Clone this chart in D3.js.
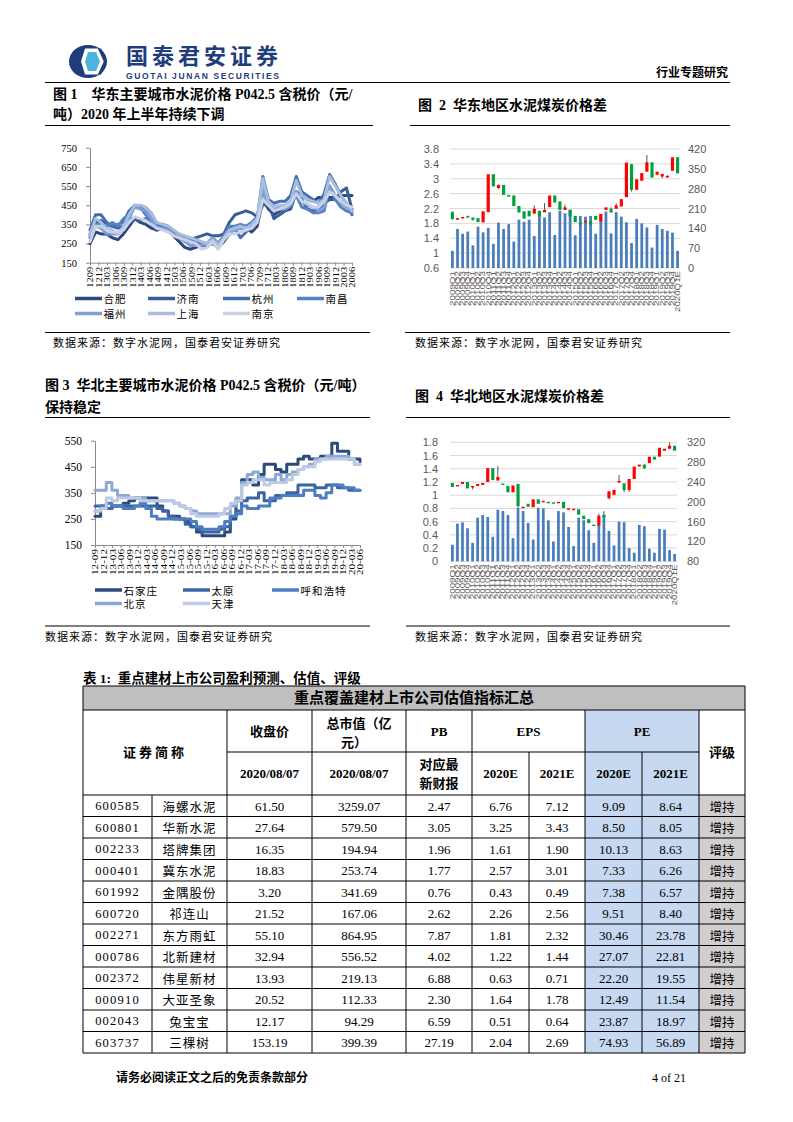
<!DOCTYPE html>
<html><head><meta charset="utf-8">
<script src="https://cdn.jsdelivr.net/npm/d3@7/dist/d3.min.js"></script>
<style>html,body{margin:0;padding:0;background:#fff;} svg{display:block;} text{white-space:pre;}</style>
</head><body>
<svg id="page" width="793" height="1122" xmlns="http://www.w3.org/2000/svg"></svg>
<script>
// ================= DATA =================
// Figure 1: East China cement price (P042.5, yuan/ton)
const c1Labels = ["1209","1212","1303","1306","1309","1312","1403","1406","1409","1412","1503","1506","1509","1512","1603","1606","1609","1612","1703","1706","1709","1712","1803","1806","1809","1812","1903","1906","1909","1912","2003","2006"];
const c1Names = ["合肥","济南","杭州","南昌","福州","上海","南京"];
const c1Hefei    = [250,310,300,300,280,270,300,340,380,360,350,330,320,330,320,290,260,230,220,230,240,240,250,230,260,300,330,330,330,310,340,480,430,400,420,440,470,520,500,480,470,490,490,490,490,500,500,500];
const c1Jinan    = [300,360,370,350,340,330,340,380,380,370,380,350,320,340,330,300,280,270,270,280,290,300,290,290,300,360,400,410,420,410,390,450,460,380,400,420,430,520,480,430,420,420,460,480,480,520,540,430];
const c1Hangzhou = [320,400,400,360,340,350,360,420,450,440,420,380,340,350,340,320,290,270,260,260,250,240,270,250,290,330,330,280,310,340,380,600,480,460,470,470,500,600,520,500,480,460,510,610,560,500,460,400];
const c1Nanchang = [280,350,350,340,360,340,380,400,440,440,400,370,340,330,320,300,280,280,260,250,250,250,280,250,290,340,340,350,340,360,390,520,460,440,430,440,460,500,440,430,410,410,420,550,480,440,420,410];
const c1Fuzhou   = [290,340,330,300,300,300,330,380,440,430,420,380,330,330,320,300,280,260,240,240,240,250,280,250,280,310,320,330,320,330,370,540,450,430,440,430,450,520,470,450,440,420,440,550,500,460,440,420];
const c1Shanghai = [300,380,360,330,320,300,340,400,450,450,440,410,360,350,340,320,300,290,280,270,260,250,270,240,280,320,330,340,330,350,380,590,470,440,450,450,470,580,500,480,470,460,480,600,550,500,460,420];
const c1Nanjing  = [260,340,340,320,310,310,320,360,390,380,370,350,330,320,310,290,280,270,260,250,220,230,260,220,270,300,300,310,320,330,360,480,450,420,430,440,460,510,470,460,440,440,470,520,500,470,450,440];
const c1YTicks = [150,250,350,450,550,650,750];

// Figure 3: North China cement price
const c3Labels = ["12-09","12-12","13-03","13-06","13-09","13-12","14-03","14-06","14-09","14-12","15-03","15-06","15-09","15-12","16-03","16-06","16-09","16-12","17-03","17-06","17-09","17-12","18-03","18-06","18-09","18-12","19-03","19-06","19-09","19-12","20-03","20-06"];
const c3Names = ["石家庄","太原","呼和浩特","北京","天津"];
const c3Shijiazhuang = [260,300,290,300,300,310,320,330,330,330,330,300,280,260,260,250,240,220,200,185,185,185,185,200,250,320,400,400,380,420,460,460,440,430,460,460,480,490,480,480,490,490,540,510,510,480,480,470];
const c3Taiyuan      = [300,290,290,300,300,300,300,300,300,300,300,290,280,260,250,250,230,220,210,200,200,200,210,220,260,280,320,330,330,350,320,320,340,340,350,350,380,380,380,370,370,380,380,370,370,360,360,360];
const c3Hohhot       = [280,300,310,300,300,290,290,300,310,290,260,250,250,250,250,250,250,240,220,210,210,210,220,240,260,270,300,290,290,300,300,330,330,340,340,340,340,360,360,340,330,350,380,380,370,370,360,360];
const c3Beijing      = [360,360,390,360,340,340,330,330,330,320,320,320,320,320,310,300,290,280,270,270,270,270,270,270,300,330,390,420,430,410,400,400,420,400,420,430,440,450,460,480,480,490,490,490,490,480,460,460];
const c3Tianjin      = [280,290,330,320,330,330,330,330,320,320,320,320,320,320,310,300,290,270,260,260,260,260,270,290,310,320,380,390,400,400,380,390,390,390,400,420,440,450,450,470,480,480,480,480,480,480,460,460];
const c3YTicks = [150,250,350,450,550];

// Figures 2 & 4: quarterly categories
const qCats = ["2009Q1","2009Q2","2009Q3","2009Q4","2010Q1","2010Q2","2010Q3","2010Q4","2011Q1","2011Q2","2011Q3","2011Q4","2012Q1","2012Q2","2012Q3","2012Q4","2013Q1","2013Q2","2013Q3","2013Q4","2014Q1","2014Q2","2014Q3","2014Q4","2015Q1","2015Q2","2015Q3","2015Q4","2016Q1","2016Q2","2016Q3","2016Q4","2017Q1","2017Q2","2017Q3","2017Q4","2018Q1","2018Q2","2018Q3","2018Q4","2019Q1","2019Q2","2019Q3","2019Q4","2020Q1E"];

// Figure 2: East China (bars on left axis, candles on right axis)
const c2Bars  = [1.06,1.65,1.52,1.58,1.21,1.71,1.56,1.68,1.25,1.82,1.65,1.78,1.31,1.90,1.84,1.90,1.46,2.09,1.96,2.10,1.49,2.14,2.07,2.17,1.48,2.00,1.98,2.00,1.52,1.99,2.12,1.53,2.10,1.98,1.83,1.27,1.92,1.80,1.69,1.15,1.76,1.65,1.60,1.55,1.06];
const c2Open  = [197,172,176,183,178,176,161,197,331,282,293,258,256,219,200,202,192,202,197,215,256,235,205,205,184,162,162,166,184,164,205,209,209,217,250,366,276,308,340,373,329,323,320,343,391];
const c2Close = [173,176,180,179,170,162,200,331,288,293,258,252,219,196,174,182,209,182,205,256,231,205,214,182,162,158,166,153,170,191,214,196,221,243,372,276,313,335,373,319,340,332,325,391,334];
const c2High  = [200,176,180,185,178,176,200,331,331,295,293,258,256,219,200,202,221,202,229,256,256,235,223,205,184,162,166,166,184,191,214,214,229,243,372,366,313,335,399,373,340,332,328,391,391];
const c2Low   = [170,170,176,179,167,162,161,197,288,280,258,252,219,196,174,182,192,182,197,215,231,205,205,182,162,147,162,153,170,164,205,196,209,217,250,270,276,308,340,319,329,318,318,343,334];
const c2LTicks = [0.6,1,1.4,1.8,2.2,2.6,3,3.4,3.8];
const c2RTicks = [0,70,140,210,280,350,420];

// Figure 4: North China
const c4Bars  = [0.25,0.57,0.59,0.50,0.28,0.66,0.70,0.67,0.37,0.78,0.76,0.70,0.35,0.81,0.76,0.58,0.33,0.81,0.80,0.62,0.30,0.76,0.74,0.52,0.23,0.66,0.62,0.47,0.28,0.56,0.70,0.46,0.24,0.60,0.59,0.20,0.13,0.55,0.53,0.19,0.13,0.49,0.48,0.17,0.11];
const c4Open  = [238,231,236,240,229,232,234,240,268,243,237,232,219,236,188,196,189,205,200,200,199,198,200,185,184,185,172,165,154,152,174,207,214,241,237,224,246,271,275,278,291,291,303,307,313];
const c4Close = [230,234,240,227,232,236,238,268,244,250,234,219,233,191,190,190,205,196,202,198,198,200,187,187,186,174,165,157,152,172,169,221,224,242,224,246,271,275,268,291,285,309,307,313,303];
const c4High  = [238,234,240,240,232,236,238,268,268,272,237,232,233,236,190,196,205,205,202,200,199,200,200,187,186,185,172,165,154,176,181,221,224,254,237,246,271,275,275,291,291,309,307,320,313];
const c4Low   = [230,231,236,227,225,232,234,240,244,243,234,219,219,189,188,190,189,196,200,198,198,198,187,185,184,174,165,157,152,152,169,205,214,238,219,220,246,271,266,278,285,291,303,307,303];
const c4LTicks = [0,0.2,0.4,0.6,0.8,1,1.2,1.4,1.6,1.8];
const c4RTicks = [80,120,160,200,240,280,320];

// Table 1
const tCodes  = ["600585","600801","002233","000401","601992","600720","002271","000786","002372","000910","002043","603737"];
const tNames  = ["海螺水泥","华新水泥","塔牌集团","冀东水泥","金隅股份","祁连山","东方雨虹","北新建材","伟星新材","大亚圣象","兔宝宝","三棵树"];
const tClose  = [61.50,27.64,16.35,18.83,3.20,21.52,55.10,32.94,13.93,20.52,12.17,153.19];
const tMcap   = [3259.07,579.50,194.94,253.74,341.69,167.06,864.95,556.52,219.13,112.33,94.29,399.39];
const tPB     = [2.47,3.05,1.96,1.77,0.76,2.62,7.87,4.02,6.88,2.30,6.59,27.19];
const tEps20  = [6.76,3.25,1.61,2.57,0.43,2.26,1.81,1.22,0.63,1.64,0.51,2.04];
const tEps21  = [7.12,3.43,1.90,3.01,0.49,2.56,2.32,1.44,0.71,1.78,0.64,2.69];
const tPe20   = [9.09,8.50,10.13,7.33,7.38,9.51,30.46,27.07,22.20,12.49,23.87,74.93];
const tPe21   = [8.64,8.05,8.63,6.26,6.57,8.40,23.78,22.81,19.55,11.54,18.97,56.89];
const tRating = ["增持","增持","增持","增持","增持","增持","增持","增持","增持","增持","增持","增持"];

// ================= DRAWING =================
const svg = d3.select("#page");
const SERIF = "'Liberation Serif','Noto Sans CJK SC',serif";
const CJK = "'Noto Sans CJK SC',sans-serif";
const SANS = "'Liberation Sans','Noto Sans CJK SC',sans-serif";
const NAVY = "#1F3C7B";

function T(parent, x, y, s, o = {}) {
  const t = parent.append("text").attr("x", x).attr("y", y).text(s)
    .attr("font-family", o.ff || SERIF).attr("font-size", o.fs || 12)
    .attr("fill", o.fill || "#000").attr("text-anchor", o.anchor || "start");
  if (o.db) t.attr("dominant-baseline", o.db);
  if (o.fw) t.attr("font-weight", o.fw);
  if (o.ls) t.attr("letter-spacing", o.ls);
  if (o.len) t.attr("textLength", o.len).attr("lengthAdjust", o.adj || "spacing");
  return t;
}
function HL(parent, x1, x2, y, w = 1, c = "#000") {
  parent.append("line").attr("x1", x1).attr("x2", x2).attr("y1", y).attr("y2", y).attr("stroke", c).attr("stroke-width", w);
}
function VL(parent, x, y1, y2, w = 1, c = "#000") {
  parent.append("line").attr("x1", x).attr("x2", x).attr("y1", y1).attr("y2", y2).attr("stroke", c).attr("stroke-width", w);
}

// ---------- Header ----------
const logo = svg.append("g").attr("transform", "translate(68,45)");
logo.append("ellipse").attr("cx", 20).attr("cy", 16.5).attr("rx", 19).attr("ry", 16.5).attr("fill", NAVY);
logo.append("polygon").attr("points", "17,3.5 30,3.5 36,16.5 30,29.5 17,29.5 13,16.5").attr("fill", "#fff");
logo.append("polygon").attr("points", "20,7 28,7 32,16.5 28,26 20,26 17,16.5").attr("fill", "#4FB3DF");
logo.append("path").attr("d", "M30,3.5 L36,16.5 L30,29.5 L33,29.5 L39,16.5 L33,3.5 Z").attr("fill", NAVY);
T(svg, 126, 64, "国泰君安证券", {ff: CJK, fs: 22, fw: 700, fill: NAVY, len: 152});
T(svg, 126, 78.5, "GUOTAI JUNAN SECURITIES", {ff: SANS, fs: 8.5, fw: 700, fill: NAVY, len: 153});
T(svg, 728, 77, "行业专题研究", {ff: CJK, fs: 12, fw: 700, anchor: "end"});
HL(svg, 45, 730, 82.5, 1);

// ---------- Figure titles ----------
T(svg, 53, 99, "图 1    华东主要城市水泥价格 P042.5 含税价（元/", {ff: SERIF, fs: 14, fw: 700});
T(svg, 53, 119, "吨）2020 年上半年持续下调", {ff: SERIF, fs: 14, fw: 700});
HL(svg, 45, 373, 125.5, 1.2);
T(svg, 418, 110, "图  2  华东地区水泥煤炭价格差", {ff: SERIF, fs: 14, fw: 700});
HL(svg, 410, 730, 125.5, 1.2);

T(svg, 45, 390, "图 3  华北主要城市水泥价格 P042.5 含税价（元/吨）", {ff: SERIF, fs: 14, fw: 700});
T(svg, 45, 412, "保持稳定", {ff: SERIF, fs: 14, fw: 700});
HL(svg, 45, 370, 417.5, 1.2);
T(svg, 415, 401, "图  4  华北地区水泥煤炭价格差", {ff: SERIF, fs: 14, fw: 700});
HL(svg, 406, 730, 417.5, 1.2);

// ---------- Source lines ----------
const SRC = "数据来源：数字水泥网，国泰君安证券研究";
HL(svg, 45, 370, 332.5, 1.2); T(svg, 53, 347, SRC, {ff: CJK, fs: 11, ls: 1});
HL(svg, 405, 730, 332.5, 1.2); T(svg, 415, 347, SRC, {ff: CJK, fs: 11, ls: 1});
HL(svg, 45, 370, 626, 1.2); T(svg, 45, 641, SRC, {ff: CJK, fs: 11, ls: 1});
HL(svg, 406, 730, 626, 1.2); T(svg, 415, 641, SRC, {ff: CJK, fs: 11, ls: 1});

// ---------- Line chart ----------
function lineChart(cfg) {
  const g = svg.append("g");
  const n = cfg.series[0].length;
  const x = d3.scaleLinear([0, n - 1], [cfg.x0, cfg.x1]);
  const xt = d3.scalePoint(cfg.labels, [cfg.x0, cfg.x1]);
  const y = d3.scaleLinear(cfg.yDomain, [cfg.yBot, cfg.yTop]);

  const ya = g.append("g").attr("transform", `translate(${cfg.x0},0)`)
    .call(d3.axisLeft(y).tickValues(cfg.yTicks).tickSize(4).tickSizeOuter(0).tickPadding(cfg.yPad));
  ya.attr("font-family", SERIF).attr("font-size", cfg.yFs);
  ya.selectAll("path,line").attr("stroke", "#8a8a8a");
  ya.selectAll("text").attr("fill", "#000");

  const xa = g.append("g").attr("transform", `translate(0,${cfg.yBot})`)
    .call(d3.axisBottom(xt).tickSize(3).tickSizeOuter(0));
  xa.attr("font-family", SERIF).attr("font-size", cfg.xFs);
  xa.selectAll("path,line").attr("stroke", "#8a8a8a");
  xa.selectAll("text").attr("fill", "#000").attr("y", 0).attr("x", -4).attr("dy", "0.35em")
    .attr("transform", "rotate(-90)").attr("text-anchor", "end")
    .attr("textLength", cfg.xLen).attr("lengthAdjust", "spacingAndGlyphs");

  const line = d3.line().x((d, i) => x(i)).y(d => y(d)).curve(cfg.curve);
  cfg.series.forEach((s, k) => {
    g.append("path").datum(s).attr("d", line).attr("fill", "none")
      .attr("stroke", cfg.colors[k]).attr("stroke-width", 3)
      .attr("stroke-linejoin", "round").attr("stroke-linecap", "round");
  });

  cfg.names.forEach((nm, k) => {
    const p = cfg.legendPos[k];
    g.append("line").attr("x1", p[0]).attr("x2", p[0] + cfg.swLen).attr("y1", p[1]).attr("y2", p[1])
      .attr("stroke", cfg.colors[k]).attr("stroke-width", 3.5);
    T(g, p[0] + cfg.swLen + 1.5, p[1], nm, {ff: CJK, fs: cfg.legFs, db: "central", ls: 1});
  });
}

lineChart({
  x0: 90, x1: 352, yTop: 147.7, yBot: 262.7, yDomain: [150, 750], yTicks: c1YTicks, yPad: 9, yFs: 10.5,
  labels: c1Labels, xFs: 8.5, xLen: 21, curve: d3.curveLinear,
  series: [c1Hefei, c1Jinan, c1Hangzhou, c1Nanchang, c1Fuzhou, c1Shanghai, c1Nanjing],
  names: c1Names,
  colors: ["#2E4A7C", "#3A5D96", "#4470B3", "#5282C3", "#7F9ED1", "#A7BCDF", "#C7D2E7"],
  legendPos: [[75, 298.5], [148, 298.5], [223, 298.5], [297, 298.5], [75, 313.5], [148, 313.5], [223, 313.5]],
  swLen: 27, legFs: 10.5
});

lineChart({
  x0: 95, x1: 360, yTop: 440.7, yBot: 545, yDomain: [150, 550], yTicks: c3YTicks, yPad: 9, yFs: 11.5,
  labels: c3Labels, xFs: 8.5, xLen: 26, curve: d3.curveStepAfter,
  series: [c3Shijiazhuang, c3Taiyuan, c3Hohhot, c3Beijing, c3Tianjin],
  names: c3Names,
  colors: ["#2D4A7C", "#3A64A4", "#4E7EC2", "#8EA8D6", "#BDCAE6"],
  legendPos: [[95, 590], [183, 590], [272, 590], [95, 603.5], [183, 603.5]],
  swLen: 27, legFs: 10.5
});

// ---------- Bar + candlestick chart ----------
function candleChart(cfg) {
  const g = svg.append("g");
  const x = d3.scaleBand(cfg.cats, [cfg.xL, cfg.xR]).paddingInner(0.46).paddingOuter(0.2);
  const yL = d3.scaleLinear(cfg.lDomain, [cfg.yBot, cfg.yTop]);
  const yR = d3.scaleLinear(cfg.rDomain, [cfg.yBot, cfg.yTop]);

  g.append("g").selectAll("line").data(cfg.lTicks).join("line")
    .attr("x1", cfg.xL).attr("x2", cfg.xR).attr("y1", d => yL(d)).attr("y2", d => yL(d))
    .attr("stroke", "#D9D9D9").attr("stroke-width", 1);

  const la = g.append("g").attr("transform", `translate(${cfg.lX},0)`)
    .call(d3.axisLeft(yL).tickValues(cfg.lTicks).tickSize(0).tickPadding(0).tickFormat(d => String(+d.toFixed(1))));
  la.select(".domain").remove();
  la.attr("font-family", SANS).attr("font-size", 11);
  la.selectAll("text").attr("fill", "#595959");

  const ra = g.append("g").attr("transform", `translate(${cfg.rX},0)`)
    .call(d3.axisRight(yR).tickValues(cfg.rTicks).tickSize(0).tickPadding(0));
  ra.select(".domain").remove();
  ra.attr("font-family", SANS).attr("font-size", 11);
  ra.selectAll("text").attr("fill", "#595959");

  const bw = x.bandwidth();
  g.append("g").selectAll("rect").data(cfg.bars).join("rect")
    .attr("x", (d, i) => x(cfg.cats[i])).attr("width", bw)
    .attr("y", d => yL(d)).attr("height", d => yL(cfg.lDomain[0]) - yL(d))
    .attr("fill", "#4A7EBB");

  const cg = g.append("g");
  cfg.open.forEach((o, i) => {
    const c = cfg.close[i], h = cfg.high[i], l = cfg.low[i];
    const cx = x(cfg.cats[i]) + bw / 2;
    if (h > Math.max(o, c) || l < Math.min(o, c)) {
      cg.append("line").attr("x1", cx).attr("x2", cx).attr("y1", yR(h)).attr("y2", yR(l))
        .attr("stroke", "#555").attr("stroke-width", 1);
    }
    const top = yR(Math.max(o, c)), hh = Math.max(1.5, Math.abs(yR(o) - yR(c)));
    cg.append("rect").attr("x", cx - bw / 2 - 0.2).attr("width", bw + 0.4)
      .attr("y", top).attr("height", hh)
      .attr("fill", c > o ? "#FF0000" : (c < o ? "#00A03C" : "#555"));
  });

  const xa = g.append("g").attr("transform", `translate(0,${cfg.yBot})`)
    .call(d3.axisBottom(x).tickSize(0).tickPadding(0));
  xa.select(".domain").remove();
  xa.attr("font-family", SANS).attr("font-size", 6.5);
  xa.selectAll("text").attr("fill", "#595959").attr("y", 0).attr("x", -3).attr("dy", "0.35em")
    .attr("transform", "rotate(-90)").attr("text-anchor", "end")
    .attr("textLength", d => d.length > 6 ? 41 : 35).attr("lengthAdjust", "spacingAndGlyphs");
}

candleChart({
  cats: qCats, xL: 450, xR: 680, yTop: 149, yBot: 268,
  lDomain: [0.6, 3.8], rDomain: [0, 420], lTicks: c2LTicks, rTicks: c2RTicks, lX: 439, rX: 688,
  bars: c2Bars, open: c2Open, close: c2Close, high: c2High, low: c2Low
});

candleChart({
  cats: qCats, xL: 450, xR: 677, yTop: 442.3, yBot: 561.3,
  lDomain: [0, 1.8], rDomain: [80, 320], lTicks: c4LTicks, rTicks: c4RTicks, lX: 438, rX: 687,
  bars: c4Bars, open: c4Open, close: c4Close, high: c4High, low: c4Low
});

// ---------- Table ----------
T(svg, 83, 683, "表 1:  重点建材上市公司盈利预测、估值、评级", {ff: SERIF, fs: 13.5, fw: 700});
const tb = svg.append("g");
const cols = [83, 152, 227, 312, 406, 472, 529, 585, 642, 699, 745];
const yTitle = 686, yH1 = 710, yH2 = 752, yData = 795, rowH = 21.5;
const yEnd = yData + tCodes.length * rowH;
const mid = (a, b) => (a + b) / 2;

tb.append("rect").attr("x", cols[0]).attr("y", yTitle).attr("width", cols[10] - cols[0]).attr("height", yH1 - yTitle).attr("fill", "#BFBFBF");
tb.append("rect").attr("x", cols[7]).attr("y", yH1).attr("width", cols[9] - cols[7]).attr("height", yEnd - yH1).attr("fill", "#C6D9F0");
tb.append("rect").attr("x", cols[9]).attr("y", yData).attr("width", cols[10] - cols[9]).attr("height", yEnd - yData).attr("fill", "#D0CECE");

HL(tb, cols[0], cols[10], yTitle); HL(tb, cols[0], cols[10], yH1);
HL(tb, cols[2], cols[9], yH2); HL(tb, cols[0], cols[10], yData);
tCodes.forEach((d, i) => HL(tb, cols[0], cols[10], yData + (i + 1) * rowH));
VL(tb, cols[0], yTitle, yEnd); VL(tb, cols[10], yTitle, yEnd);
VL(tb, cols[1], yData, yEnd);
[2, 3, 4, 5, 7, 9].forEach(k => VL(tb, cols[k], yH1, yEnd));
[6, 8].forEach(k => VL(tb, cols[k], yH2, yEnd));

const HB = {ff: SERIF, fs: 13, fw: 700, anchor: "middle", db: "central"};
T(tb, mid(cols[0], cols[10]), mid(yTitle, yH1), "重点覆盖建材上市公司估值指标汇总", Object.assign({}, HB, {fs: 15}));
T(tb, mid(cols[0], cols[2]), mid(yH1, yData), "证券简称", Object.assign({}, HB, {ls: 3}));
T(tb, mid(cols[2], cols[3]), mid(yH1, yH2), "收盘价", HB);
T(tb, mid(cols[3], cols[4]), 723, "总市值（亿", HB);
T(tb, mid(cols[3], cols[4]) - 5, 742, "元）", HB);
T(tb, mid(cols[4], cols[5]), mid(yH1, yH2), "PB", HB);
T(tb, mid(cols[5], cols[7]), mid(yH1, yH2), "EPS", HB);
T(tb, mid(cols[7], cols[9]), mid(yH1, yH2), "PE", HB);
T(tb, mid(cols[9], cols[10]), mid(yH1, yData), "评级", HB);
const yR2 = mid(yH2, yData);
T(tb, mid(cols[2], cols[3]), yR2, "2020/08/07", HB);
T(tb, mid(cols[3], cols[4]), yR2, "2020/08/07", HB);
T(tb, mid(cols[4], cols[5]), 764, "对应最", HB);
T(tb, mid(cols[4], cols[5]), 783, "新财报", HB);
["2020E", "2021E", "2020E", "2021E"].forEach((s, k) => T(tb, mid(cols[5 + k], cols[6 + k]), yR2, s, HB));

const f2 = v => v.toFixed(2);
const NB = {ff: SERIF, fs: 13, anchor: "middle", db: "central"};
tCodes.forEach((code, i) => {
  const cy = yData + i * rowH + rowH / 2 + 0.5;
  T(tb, mid(cols[0], cols[1]), cy, code, {ff: SERIF, fs: 12.5, anchor: "middle", db: "central", ls: 1.2});
  T(tb, mid(cols[1], cols[2]), cy, tNames[i], {ff: CJK, fs: 12.5, anchor: "middle", db: "central", ls: 1});
  T(tb, mid(cols[2], cols[3]), cy, f2(tClose[i]), NB);
  T(tb, mid(cols[3], cols[4]), cy, f2(tMcap[i]), NB);
  T(tb, mid(cols[4], cols[5]), cy, f2(tPB[i]), NB);
  T(tb, mid(cols[5], cols[6]), cy, f2(tEps20[i]), NB);
  T(tb, mid(cols[6], cols[7]), cy, f2(tEps21[i]), NB);
  T(tb, mid(cols[7], cols[8]), cy, f2(tPe20[i]), NB);
  T(tb, mid(cols[8], cols[9]), cy, f2(tPe21[i]), NB);
  T(tb, mid(cols[9], cols[10]), cy, tRating[i], {ff: CJK, fs: 12.5, anchor: "middle", db: "central"});
});

// ---------- Footer ----------
T(svg, 116, 1082, "请务必阅读正文之后的免责条款部分", {ff: CJK, fs: 12, fw: 700});
T(svg, 686, 1082, "4 of 21", {ff: SERIF, fs: 12, anchor: "end"});
</script>
</body></html>
